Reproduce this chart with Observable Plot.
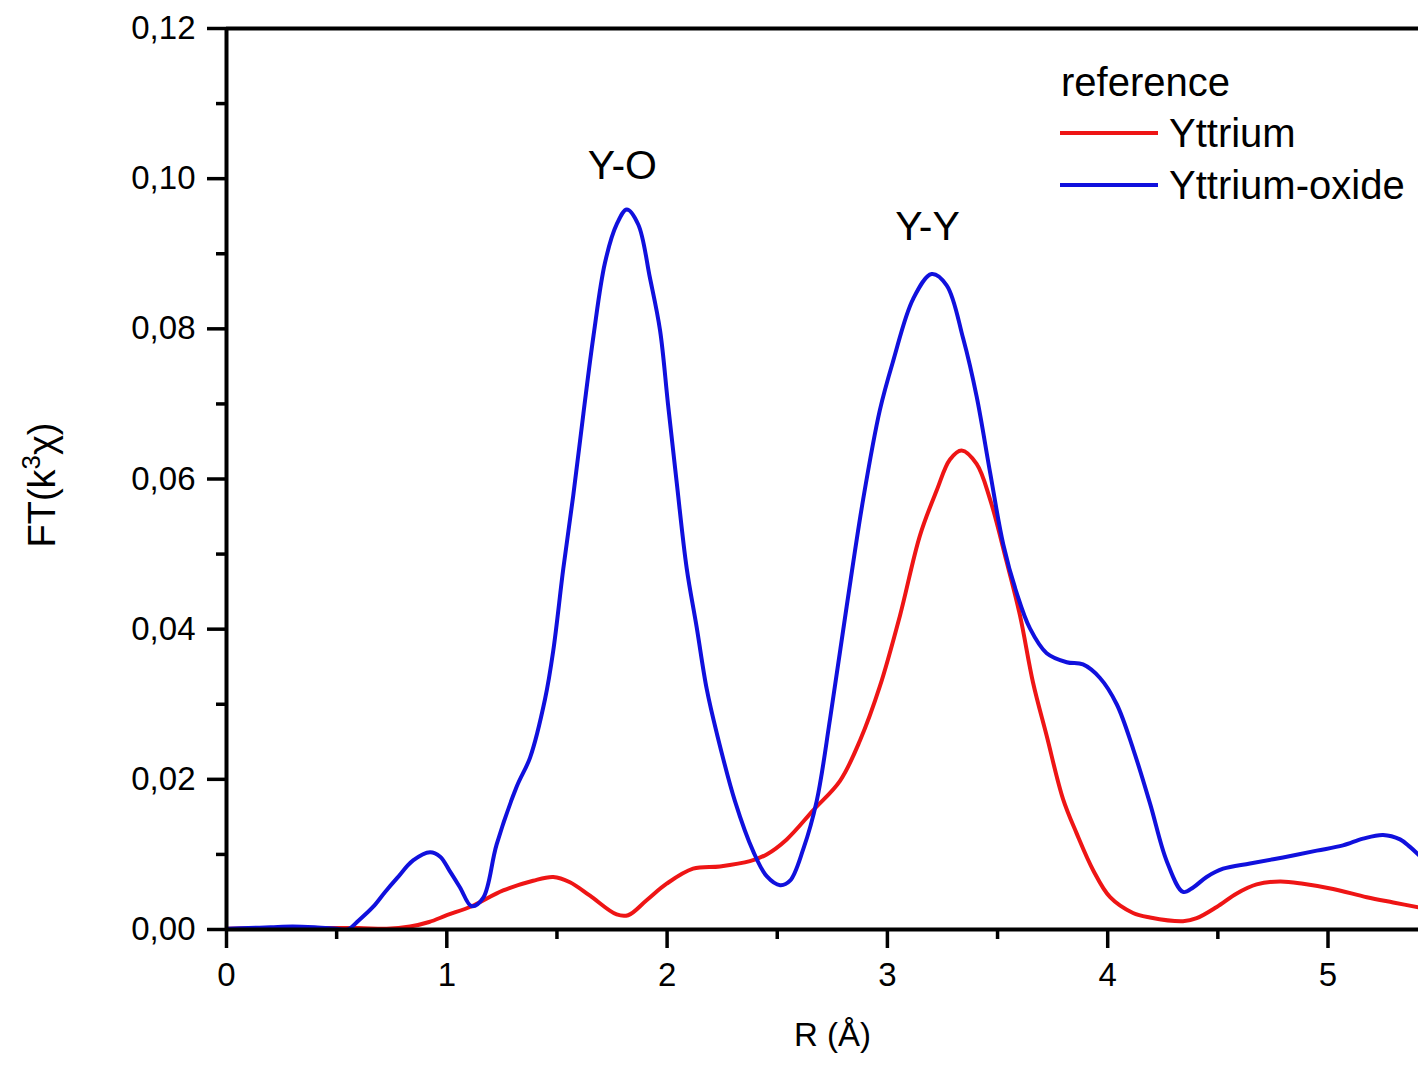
<!DOCTYPE html>
<html>
<head>
<meta charset="utf-8">
<script src="https://cdn.jsdelivr.net/npm/d3@7"></script>
<script src="https://cdn.jsdelivr.net/npm/@observablehq/plot@0.6"></script>
<style>
  html, body { margin: 0; padding: 0; background: #fff; }
  #wrap { position: relative; width: 1418px; height: 1066px; overflow: hidden; font-family: "Liberation Sans", Arial, sans-serif; }
</style>
</head>
<body>
<div id="wrap"></div>
<script>
// ---- data ----
const seriesNames = ["Yttrium", "Yttrium-oxide"];
const seriesColors = ["#ee1515", "#1010dd"];

const oxideR = [0, 0.1, 0.2, 0.3, 0.4, 0.5, 0.55, 0.6, 0.665, 0.72, 0.773, 0.847, 0.924, 0.97, 1.015, 1.06, 1.113, 1.165, 1.226, 1.317, 1.378, 1.446, 1.483, 1.529, 1.574, 1.620, 1.666, 1.718, 1.771, 1.817, 1.869, 1.922, 1.968, 2.004, 2.043, 2.089, 2.134, 2.180, 2.225, 2.308, 2.391, 2.452, 2.513, 2.558, 2.618, 2.679, 2.740, 2.815, 2.890, 2.966, 3.026, 3.117, 3.201, 3.269, 3.344, 3.405, 3.466, 3.526, 3.587, 3.647, 3.723, 3.814, 3.888, 3.965, 4.041, 4.116, 4.192, 4.268, 4.342, 4.388, 4.449, 4.524, 4.646, 4.796, 4.949, 5.068, 5.159, 5.250, 5.327, 5.372, 5.42];
const oxideFT = [0.0001, 0.0002, 0.0003, 0.0004, 0.0003, 0.0001, 0.0, 0.0012, 0.0030, 0.0050, 0.0068, 0.0092, 0.0103, 0.0097, 0.0077, 0.0056, 0.0031, 0.0042, 0.0113, 0.0190, 0.0229, 0.0307, 0.0371, 0.0481, 0.0578, 0.0687, 0.0791, 0.0888, 0.0939, 0.0959, 0.0939, 0.0868, 0.0798, 0.0700, 0.0597, 0.0481, 0.0403, 0.0320, 0.0262, 0.0171, 0.0104, 0.0071, 0.0059, 0.0065, 0.0107, 0.0171, 0.0281, 0.0430, 0.0573, 0.0692, 0.0757, 0.0840, 0.0873, 0.0858, 0.0787, 0.0710, 0.0609, 0.0513, 0.0448, 0.0401, 0.0368, 0.0356, 0.0353, 0.0335, 0.0300, 0.0240, 0.0168, 0.0091, 0.0050, 0.0056, 0.0070, 0.0081, 0.0088, 0.0096, 0.0105, 0.0112, 0.0121, 0.0126, 0.0120, 0.0110, 0.0097];

const yttriumR = [0, 0.2, 0.4, 0.6, 0.727, 0.833, 0.92, 1.0, 1.113, 1.256, 1.392, 1.483, 1.559, 1.650, 1.771, 1.823, 1.907, 1.998, 2.118, 2.240, 2.376, 2.452, 2.543, 2.664, 2.785, 2.876, 2.966, 3.057, 3.148, 3.224, 3.284, 3.337, 3.405, 3.466, 3.541, 3.602, 3.661, 3.723, 3.797, 3.859, 3.934, 4.011, 4.115, 4.192, 4.342, 4.404, 4.495, 4.586, 4.676, 4.782, 4.887, 5.023, 5.176, 5.296, 5.42];
const yttriumFT = [0.0001, 0.0002, 0.0002, 0.0002, 0.0001, 0.0004, 0.0010, 0.0019, 0.0031, 0.0052, 0.0065, 0.0070, 0.0063, 0.0045, 0.0020, 0.0019, 0.0039, 0.0061, 0.0081, 0.0084, 0.0091, 0.0100, 0.0120, 0.0159, 0.0198, 0.0252, 0.0324, 0.0418, 0.0525, 0.0585, 0.0626, 0.0638, 0.0620, 0.0573, 0.0490, 0.0418, 0.0329, 0.0258, 0.0174, 0.0128, 0.0079, 0.0043, 0.0022, 0.0016, 0.0011, 0.0015, 0.0030, 0.0048, 0.0060, 0.0064, 0.0061, 0.0054, 0.0043, 0.0036, 0.0029];

const xMajorTicks = [0, 1, 2, 3, 4, 5];
const xMinorTicks = [0.5, 1.5, 2.5, 3.5, 4.5];
const yMajorTicks = [0, 0.02, 0.04, 0.06, 0.08, 0.10, 0.12];
const yMinorTicks = [0.01, 0.03, 0.05, 0.07, 0.09, 0.11];

const annoText = ["Y-O", "Y-Y"];
const annoR = [1.797, 3.182];
const annoFT = [0.1017, 0.0936];

const legendTitle = "reference";
const xTitle = "R (Å)";

// ---- build tables ----
const yttrium = yttriumR.map((r, i) => ({r, ft: yttriumFT[i]}));
const oxide = oxideR.map((r, i) => ({r, ft: oxideFT[i]}));
const annos = annoText.map((t, i) => ({t, r: annoR[i], ft: annoFT[i]}));

const fmtY = d => d.toFixed(2).replace(".", ",");
const fmtX = d => String(d);
const W = 1418, H = 1066, ML = 226, MT = 28, MB = 137;
const pxPerUnit = 220.3;

const chart = Plot.plot({
  width: W,
  height: H,
  marginLeft: ML,
  marginRight: 0,
  marginTop: MT,
  marginBottom: MB,
  style: {fontFamily: "'Liberation Sans', Arial, sans-serif", fontSize: "33px", background: "white", color: "black", overflow: "visible"},
  x: {domain: [0, (W - ML) / pxPerUnit]},
  y: {domain: [0, 0.12]},
  marks: [
    Plot.line(yttrium, {x: "r", y: "ft", stroke: seriesColors[0], strokeWidth: 4, curve: "catmull-rom", clip: true}),
    Plot.line(oxide, {x: "r", y: "ft", stroke: seriesColors[1], strokeWidth: 4, curve: "catmull-rom", clip: true}),
    Plot.ruleX([0], {strokeWidth: 4}),
    Plot.ruleY([0], {strokeWidth: 4}),
    Plot.ruleY([0.12], {strokeWidth: 4}),
    Plot.axisY({ticks: yMajorTicks, tickSize: 19, tickPadding: 12, tickFormat: fmtY, fontSize: 33, strokeWidth: 3.5, label: null}),
    Plot.axisY({ticks: yMinorTicks, tickSize: 10, tickFormat: () => "", strokeWidth: 3.5, label: null}),
    Plot.axisX({ticks: xMajorTicks, tickSize: 19, tickPadding: 14, tickFormat: fmtX, fontSize: 33, strokeWidth: 3.5, label: null}),
    Plot.axisX({ticks: xMinorTicks, tickSize: 10, tickFormat: () => "", strokeWidth: 3.5, label: null}),
    Plot.text(annos, {x: "r", y: "ft", text: "t", fontSize: 41, fill: "black"}),
    Plot.text([xTitle], {frameAnchor: "bottom", textAnchor: "middle", dy: 116, dx: 10, fontSize: 33, fill: "black"}),
    Plot.text(["FT(k3χ)"], {frameAnchor: "left", textAnchor: "middle", dx: -184, dy: 6, rotate: -90, fontSize: 38, fill: "black", className: "ytitle"})
  ]
});

document.getElementById("wrap").appendChild(chart);

// superscript in y title
const yt = chart.querySelector(".ytitle text");
if (yt) {
  yt.textContent = "";
  const parts = [["FT(k", null, null], ["3", "-0.55em", "0.68em"], ["χ)", "0.37em", null]];
  const ns = "http://www.w3.org/2000/svg";
  for (const [txt, dy, fs] of parts) {
    const ts = document.createElementNS(ns, "tspan");
    ts.textContent = txt;
    if (dy) ts.setAttribute("dy", dy);
    if (fs) ts.setAttribute("font-size", fs);
    yt.appendChild(ts);
  }
}

// legend overlay
const leg = d3.select("#wrap").append("svg")
  .attr("width", W).attr("height", 240)
  .style("position", "absolute").style("left", "0px").style("top", "0px")
  .style("font-family", "'Liberation Sans', Arial, sans-serif");
leg.append("text").attr("x", 1061).attr("y", 96).attr("font-size", 40).text(legendTitle);
seriesNames.forEach((name, i) => {
  const yy = 133 + i * 52;
  leg.append("line").attr("x1", 1060).attr("x2", 1158).attr("y1", yy).attr("y2", yy)
    .attr("stroke", seriesColors[i]).attr("stroke-width", 4);
  leg.append("text").attr("x", 1169).attr("y", yy + 14).attr("font-size", 40).text(name);
});
</script>
</body>
</html>
